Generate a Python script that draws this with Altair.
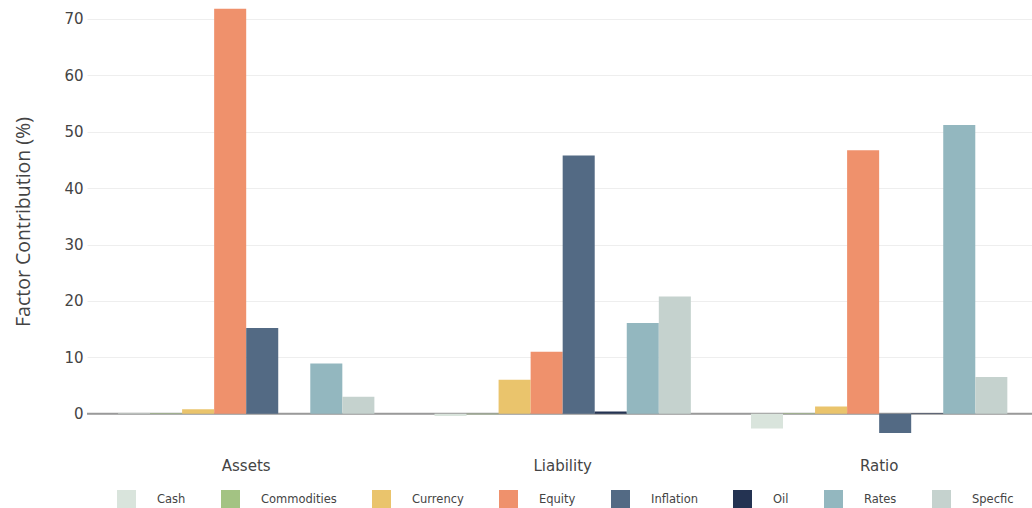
import altair as alt
import pandas as pd

# Portfolio groups and risk factors
groups = ["Assets", "Liability", "Ratio"]
factors = ["Cash", "Commodities", "Currency", "Equity", "Inflation", "Oil", "Rates", "Specfic"]
colors = ["#d9e4dc", "#a3c383", "#eac46c", "#ef916c", "#536a84", "#243352", "#93b7bf", "#c5d2ce"]

# Factor contribution (%) per group, in factor order
assets = [0.1, 0.1, 0.8, 71.8, 15.2, 0.0, 8.9, 3.0]
liability = [-0.4, -0.1, 6.0, 11.0, 45.8, 0.4, 16.1, 20.8]
ratio = [-2.6, 0.1, 1.3, 46.7, -3.4, 0.1, 51.2, 6.5]

y_ticks = [0, 10, 20, 30, 40, 50, 60, 70]

rows = []
for g, vals in zip(groups, [assets, liability, ratio]):
    for f, v in zip(factors, vals):
        rows.append({"group": g, "factor": f, "value": v})
df = pd.DataFrame(rows)

TEXT = "#444444"

y_scale = alt.Scale(domain=[-4.2, 73], nice=False)

zero_line = alt.Chart(pd.DataFrame({"v": [0]})).mark_rule(
    color="#9a9a9a", strokeWidth=2
).encode(y=alt.Y("v:Q", scale=y_scale))

bars = alt.Chart(df).mark_bar().encode(
    x=alt.X(
        "group:N",
        sort=groups,
        scale=alt.Scale(paddingInner=0.19, paddingOuter=0.088, align=0.557),
        axis=alt.Axis(
            title=None, domain=False, ticks=False, labelAngle=0,
            labelPadding=21, labelFontSize=15, labelFont="DejaVu Sans",
            labelColor=TEXT,
        ),
    ),
    xOffset=alt.XOffset(
        "factor:N", sort=factors,
        scale=alt.Scale(paddingInner=0, paddingOuter=0),
    ),
    y=alt.Y(
        "value:Q",
        scale=y_scale,
        axis=alt.Axis(
            values=y_ticks, title="Factor Contribution (%)",
            domain=False, ticks=False, grid=True, gridColor="#eeeeee",
            labelPadding=4, labelFontSize=15, labelFont="DejaVu Sans",
            labelColor=TEXT,
            titleFont="Open Sans", titleFontSize=19.5, titleFontWeight="normal",
            titleColor=TEXT, titleX=-64, titleY=219.5, titleAngle=270,
            titleAlign="center", titleBaseline="middle",
        ),
    ),
    color=alt.Color(
        "factor:N",
        sort=factors,
        scale=alt.Scale(domain=factors, range=colors),
        legend=alt.Legend(
            title=None, orient="none", legendX=30, legendY=488,
            direction="horizontal", columns=8, symbolType="square",
            symbolSize=361, symbolStrokeWidth=0, symbolOpacity=1,
            labelOffset=21, columnPadding=35, padding=0,
            labelFontSize=11.5, labelFont="DejaVu Sans", labelColor=TEXT,
        ),
    ),
)

chart = alt.layer(zero_line, bars).properties(
    width=945,
    height=435.4,
    padding={"left": 87, "top": 2, "right": 0, "bottom": 70.6},
    autosize="none",
    background="white",
).configure_view(stroke=None)

chart.save("out.html", embed_options={"renderer": "svg", "actions": False})
